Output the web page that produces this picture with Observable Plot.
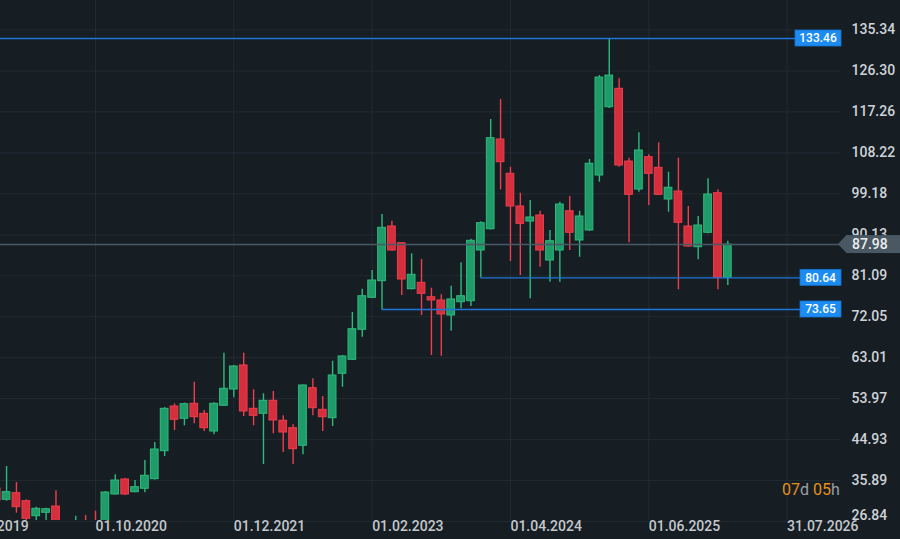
<!DOCTYPE html>
<html><head><meta charset="utf-8">
<script src="https://cdn.jsdelivr.net/npm/d3@7"></script>
<script src="https://cdn.jsdelivr.net/npm/@observablehq/plot@0.6"></script>
<style>
html,body{margin:0;padding:0;background:#161e24;overflow:hidden}
#chart{width:900px;height:539px}
#chart svg{display:block}
</style></head><body><div id="chart"></div>
<script>
// Monthly candles
const months = ["2019-12","2020-01","2020-02","2020-03","2020-04","2020-05","2020-06","2020-07","2020-08","2020-09","2020-10","2020-11","2020-12",
"2021-01","2021-02","2021-03","2021-04","2021-05","2021-06","2021-07","2021-08","2021-09","2021-10","2021-11","2021-12",
"2022-01","2022-02","2022-03","2022-04","2022-05","2022-06","2022-07","2022-08","2022-09","2022-10","2022-11","2022-12",
"2023-01","2023-02","2023-03","2023-04","2023-05","2023-06","2023-07","2023-08","2023-09","2023-10","2023-11","2023-12",
"2024-01","2024-02","2024-03","2024-04","2024-05","2024-06","2024-07","2024-08","2024-09","2024-10","2024-11","2024-12",
"2025-01","2025-02","2025-03","2025-04","2025-05","2025-06","2025-07","2025-08","2025-09","2025-10","2025-11","2025-12",
"2026-01","2026-02"];
const open = [34.14,31.65,33.11,31.34,28.03,28.78,30.17,25.5,24.5,26.0,25.5,25.0,32.82,
36.13,33.33,34.08,36.2,42.38,52.24,49.53,52.84,50.63,46.72,52.4,55.99,
61.3,51.73,50.63,53.5,49.09,47.45,43.57,56.28,51.51,49.66,59.46,62.55,
69.17,76.23,79.9,91.97,88.28,78.13,79.54,76.36,75.64,72.33,75.26,75.48,
86.67,91.37,111.17,103.6,96.38,93.07,94.4,84.46,86.67,95.34,88.88,91.09,
103.22,118.3,122.36,106.31,100.13,107.26,104.92,97.93,99.69,91.97,87.4,90.58,
99.32,80.65];
const high = [35.0,39.0,35.47,31.65,30.02,29.8,33.64,26.6,28.03,28.2,29.13,33.48,37.17,
36.42,35.91,40.32,44.3,52.0,52.84,53.0,57.6,51.36,53.06,64.01,61.3,
64.01,55.93,55.04,55.55,50.19,48.2,57.0,58.36,54.45,62.24,63.5,72.99,
78.13,82.26,94.62,93.14,88.4,85.94,84.68,78.35,76.89,78.79,83.96,89.17,
93.0,115.58,120.0,105.06,99.32,97.71,95.34,91.09,97.33,98.59,95.34,106.76,
125.29,133.46,124.57,107.04,112.65,107.79,110.44,103.95,107.04,96.38,94.18,102.5,
100.07,88.7];
const low = [31.2,31.34,28.69,22.0,26.5,26.5,24.0,23.0,23.0,24.0,23.5,24.5,32.7,
32.6,33.19,33.19,36.0,41.21,46.94,47.98,48.42,46.72,46.0,52.3,54.16,
50.03,47.98,39.44,46.22,42.09,39.44,41.58,50.19,46.72,47.83,56.5,62.4,
67.54,76.1,73.65,86.5,76.74,78.0,72.33,63.5,63.34,68.86,73.8,74.31,
80.64,91.2,100.07,84.24,81.15,76.01,82.99,79.67,79.67,86.67,85.19,90.9,
101.75,118.0,105.06,88.37,99.54,96.6,98.8,95.12,78.0,87.4,84.62,90.36,
78.0,78.95];
const close = [31.5,33.33,30.02,27.46,29.66,29.57,25.5,24.5,26.0,25.5,25.0,33.26,35.91,
32.82,34.43,36.95,42.75,51.73,49.31,52.75,49.88,47.45,52.84,56.15,61.07,
51.14,50.19,53.5,49.15,46.5,42.82,56.88,51.87,49.88,59.08,63.28,69.3,
76.58,80.05,91.68,86.67,80.27,81.31,77.11,75.64,72.55,75.86,76.58,88.81,
92.7,111.46,106.16,96.38,92.56,93.96,86.67,88.72,96.82,90.58,94.18,105.81,
124.85,125.29,105.43,98.96,108.74,103.6,98.96,100.51,92.78,87.55,92.19,99.03,
80.65,87.98];

// Axes
const xTickMonths = ["2019-08","2020-10","2021-12","2023-02","2024-04","2025-06","2026-08"];
const xTickLabels = ["01.08.2019","01.10.2020","01.12.2021","01.02.2023","01.04.2024","01.06.2025","31.07.2026"];
const yTicks = [26.84,35.89,44.93,53.97,63.01,72.05,81.09,90.13,99.18,108.22,117.26,126.30,135.34];

// Price levels
const levelValues = [133.46, 80.64, 73.65];
const levelStarts = [null, "2024-01", "2023-03"];
const lastPrice = 87.98;
const countdownParts = ["07","d ","05","h"];

const mIdx = s => { const [y, m] = s.split("-").map(Number); return y * 12 + m - 1; };
const xDomain = [mIdx("2020-10") - 9.615, mIdx("2020-10") + 75.405];
const yDomain = [27.08, 141.85];

const candles = months.map((s, i) => ({m: mIdx(s), open: open[i], high: high[i], low: low[i], close: close[i], up: close[i] >= open[i]}));
const xTicks = xTickMonths.map(mIdx);
const levels = levelValues.map((v, i) => ({v, start: levelStarts[i] ? mIdx(levelStarts[i]) : xDomain[0]}));

const GREEN_FILL = "#1f9a69", GREEN_LINE = "#2dbb7d", RED_FILL = "#d52f3d", RED_LINE = "#ee3d4c";

function overlays(index, scales, values, dims) {
  const {y} = scales;
  const W = dims.width, right = W - dims.marginRight;
  const g = d3.create("svg:g").attr("font-family", "Roboto, sans-serif").attr("text-anchor", "start");
  for (const lv of levelValues) {
    const py = y(lv);
    const txt = lv.toFixed(2);
    const w = 5 * txt.length + 16;
    g.append("rect").attr("x", right - w + 1).attr("y", py - 8).attr("width", w).attr("height", 16)
      .attr("fill", "#1c8cf2").attr("stroke", "#1670c8").attr("stroke-width", 0.8);
    g.append("text").attr("x", right - w / 2 + 1).attr("y", py).attr("dy", "0.36em")
      .attr("text-anchor", "middle").attr("fill", "#ffffff").attr("font-size", 12).attr("font-weight", 500).text(txt);
  }
  const py = y(lastPrice);
  g.append("rect").attr("x", right + 6).attr("y", py - 9).attr("width", W - right - 6).attr("height", 18)
    .style("fill", "#4a5863");
  g.append("polygon").attr("points", `${right - 2},${py} ${right + 6.5},${py - 9} ${right + 6.5},${py + 9}`)
    .style("fill", "#4a5863");
  g.append("text").attr("x", right + 12).attr("y", py).attr("dy", "0.36em").attr("fill", "#eceff1")
    .attr("font-size", 14).attr("font-weight", 500).text(lastPrice.toFixed(2));
  const t = g.append("text").attr("x", right - 58).attr("y", 495).attr("font-size", 16);
  countdownParts.forEach((p, i) => t.append("tspan").attr("fill", i % 2 === 0 ? "#e8901c" : "#9aa0a6").text(p));
  return g.node();
}

const chart = Plot.plot({
  width: 900, height: 539,
  marginTop: 0, marginBottom: 19, marginLeft: 0, marginRight: 60,
  style: {background: "transparent", color: "#c9cdd2", fontFamily: "Roboto, sans-serif", fontSize: "14px"},
  x: {type: "linear", domain: xDomain},
  y: {domain: yDomain},
  marks: [
    Plot.gridY(yTicks, {stroke: "#222b32", strokeOpacity: 1}),
    Plot.gridX(xTicks, {stroke: "#222b32", strokeOpacity: 1}),
    Plot.ruleX(candles, {x: "m", y1: "low", y2: "high", stroke: d => d.up ? GREEN_LINE : RED_LINE, strokeWidth: 1.4, clip: true}),
    Plot.rect(candles, {x1: d => d.m - 0.39, x2: d => d.m + 0.39, y1: "open", y2: "close",
      fill: d => d.up ? GREEN_FILL : RED_FILL, stroke: d => d.up ? GREEN_LINE : RED_LINE, strokeWidth: 1, clip: true}),
    Plot.ruleY([lastPrice], {stroke: "#4a5863", strokeWidth: 1.5}),
    Plot.ruleY(levels, {y: "v", x1: "start", x2: xDomain[1], stroke: "#1f75d8", strokeWidth: 1.3}),
    Plot.axisX(xTicks, {tickSize: 0, tickPadding: 1, textAnchor: "start", fill: "#c4c8cd", fontSize: 14, fontWeight: 500,
      tickFormat: d => xTickLabels[xTicks.indexOf(d)]}),
    Plot.axisY(yTicks.slice(1), {anchor: "right", tickSize: 0, tickPadding: 11, fill: "#cfd3d8", fontSize: 14, fontWeight: 500,
      tickFormat: d => d.toFixed(2)}),
    Plot.axisY(yTicks.slice(0, 1), {anchor: "right", tickSize: 0, tickPadding: 11, dy: -6, fill: "#cfd3d8", fontSize: 14, fontWeight: 500,
      tickFormat: d => d.toFixed(2)}),
    overlays
  ]
});
document.getElementById("chart").appendChild(chart);
</script></body></html>
